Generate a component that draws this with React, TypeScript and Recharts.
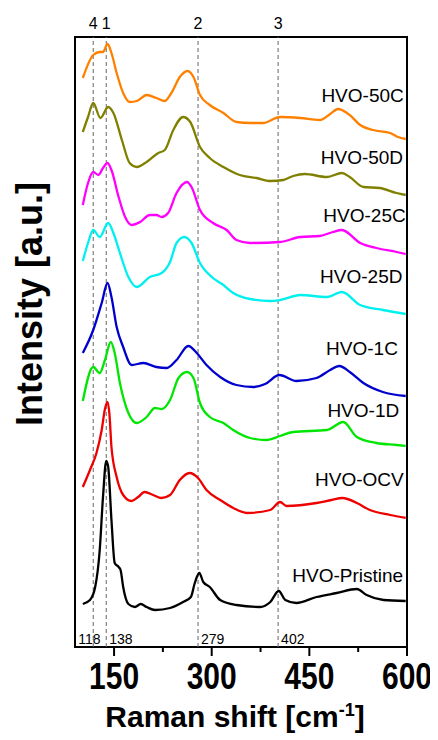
import { LineChart, Line, XAxis, YAxis, ReferenceLine, ReferenceArea, ReferenceDot, Label } from 'recharts';

const FONT = '"Liberation Sans", Arial, sans-serif';

// Raman shift range and intensity range (a.u., curves already stacked)
const X_DOMAIN = [90, 600];
const Y_DOMAIN = [0, 610];
const X_TICKS = [150, 225, 300, 375, 450, 525, 600];

// reference peaks: value, top tag, bottom tag
const PEAKS = [118, 138, 279, 402];
const PEAK_TAGS = ['4', '1', '2', '3'];

const pristine = [
  [102, 43], [113, 47], [121, 60], [128, 97], [133, 150], [138, 186], [141, 180], [146, 127],
  [151, 84], [157, 80], [160, 77], [164, 60], [172, 43], [182, 40], [191, 43], [200, 40],
  [213, 37], [236, 39], [256, 45], [268, 50], [274, 64], [281, 74], [287, 65], [297, 60],
  [313, 47], [338, 42], [374, 40], [390, 45], [403, 56], [413, 47], [430, 44], [461, 50],
  [492, 54], [523, 58], [538, 52], [564, 47], [598, 46],
];
const ocv = [
  [102, 160], [113, 177], [123, 194], [131, 217], [136, 238], [140, 245], [143, 232], [146, 200],
  [154, 170], [164, 152], [177, 146], [187, 150], [197, 155], [210, 152], [223, 149], [236, 152],
  [251, 167], [266, 174], [279, 169], [292, 157], [313, 147], [333, 139], [354, 134], [390, 137],
  [405, 145], [415, 141], [461, 144], [484, 147], [501, 149], [523, 144], [543, 137], [574, 132],
  [598, 129],
];
const d1 = [
  [102, 246], [118, 280], [128, 274], [136, 287], [145, 305], [151, 294], [159, 264], [172, 234],
  [185, 224], [200, 230], [213, 239], [223, 238], [236, 247], [249, 269], [262, 275], [272, 269],
  [282, 244], [297, 230], [318, 224], [333, 217], [359, 209], [384, 207], [405, 211], [425, 215],
  [477, 217], [502, 225], [523, 210], [553, 204], [584, 202], [598, 201],
];
const c1 = [
  [102, 294], [118, 317], [131, 344], [140, 364], [146, 350], [154, 320], [164, 300], [177, 282],
  [195, 284], [215, 280], [231, 279], [246, 287], [264, 301], [277, 294], [292, 282], [313, 270],
  [338, 262], [364, 260], [382, 263], [404, 272], [430, 266], [461, 269], [482, 277], [496, 281],
  [512, 275], [533, 264], [563, 255], [598, 251],
];
const d25 = [
  [102, 386], [110, 404], [118, 417], [128, 410], [141, 424], [149, 414], [159, 394], [172, 370],
  [185, 360], [205, 370], [223, 374], [236, 385], [246, 404], [258, 410], [269, 404], [282, 384],
  [302, 369], [318, 362], [333, 354], [359, 348], [390, 346], [405, 347], [436, 352], [477, 350],
  [500, 355], [528, 342], [563, 337], [598, 333],
];
const c25 = [
  [102, 442], [110, 464], [118, 475], [126, 472], [133, 479], [140, 484], [146, 477], [157, 450],
  [167, 430], [177, 422], [190, 425], [205, 432], [215, 432], [223, 430], [233, 434], [246, 454],
  [262, 465], [269, 460], [282, 437], [302, 424], [323, 417], [338, 407], [359, 404], [405, 405],
  [436, 410], [466, 411], [486, 415], [500, 417], [528, 404], [553, 399], [584, 395], [598, 393],
];
const d50 = [
  [102, 515], [110, 530], [118, 544], [129, 529], [141, 540], [149, 534], [162, 507], [174, 484],
  [185, 480], [200, 485], [218, 494], [228, 497], [241, 517], [256, 530], [267, 525], [282, 500],
  [297, 489], [318, 480], [343, 472], [369, 469], [390, 466], [410, 467], [425, 471], [443, 473],
  [477, 470], [500, 474], [512, 470], [533, 460], [558, 459], [584, 454], [598, 452],
];
const c50 = [
  [102, 569], [118, 592], [128, 595], [133, 595], [140, 603], [146, 594], [154, 574], [164, 554],
  [174, 545], [185, 546], [200, 552], [215, 549], [228, 546], [238, 554], [251, 570], [263, 576],
  [272, 570], [282, 552], [297, 542], [318, 534], [338, 525], [359, 524], [379, 524], [405, 530],
  [436, 529], [466, 527], [482, 533], [494, 538], [512, 532], [528, 522], [548, 517], [574, 514],
  [586, 510], [598, 508],
];

const SERIES = [
  { name: 'HVO-Pristine', data: pristine, color: '#000000', labelX: 594, labelY: 65 },
  { name: 'HVO-OCV', data: ocv, color: '#ee0000', labelX: 595, labelY: 161 },
  { name: 'HVO-1D', data: d1, color: '#00e600', labelX: 588, labelY: 230 },
  { name: 'HVO-1C', data: c1, color: '#0000cc', labelX: 586, labelY: 292 },
  { name: 'HVO-25D', data: d25, color: '#00f0f0', labelX: 593, labelY: 364 },
  { name: 'HVO-25C', data: c25, color: '#ff00ff', labelX: 598, labelY: 425 },
  { name: 'HVO-50D', data: d50, color: '#808000', labelX: 594, labelY: 483 },
  { name: 'HVO-50C', data: c50, color: '#ff8000', labelX: 595, labelY: 545 },
];

function XTick({ x, y, payload }: any) {
  const major = payload.value % 150 === 0;
  return (
    <g>
      <line x1={x} y1={y} x2={x} y2={y + (major ? 9 : 5)} stroke="#000" strokeWidth={2} />
      {major && (
        <text
          transform={`translate(${x}, ${y + 42}) scale(1, 1.22)`}
          textAnchor="middle"
          fontFamily={FONT}
          fontWeight="bold"
          fontSize={30}
          fill="#000"
        >
          {payload.value}
        </text>
      )}
    </g>
  );
}

function PeakLabel({ viewBox, index }: any) {
  const { x, y, height } = viewBox;
  const dx = index === 0 ? -15 : 3;
  return (
    <g fontFamily={FONT} fill="#000">
      <text x={x} y={y - 8} textAnchor="middle" fontSize={16}>
        {PEAK_TAGS[index]}
      </text>
      <text x={x + dx} y={y + height - 3} fontSize={14}>
        {PEAKS[index]}
      </text>
    </g>
  );
}

export default function App() {
  return (
    <LineChart width={430} height={732} margin={{ top: 29, right: 31, left: 0, bottom: 0 }}>
      <XAxis
        type="number"
        dataKey="x"
        domain={X_DOMAIN}
        ticks={X_TICKS}
        allowDataOverflow
        height={93}
        tickSize={0}
        tickMargin={0}
        axisLine={false}
        tick={<XTick />}
        interval={0}
      >
        <Label
          content={({ viewBox }: any) => (
            <text
              x={viewBox.x + viewBox.width / 2 - 6}
              y={viewBox.y + 80}
              textAnchor="middle"
              fontFamily={FONT}
              fontWeight="bold"
              fontSize={30}
              fill="#000"
            >
              Raman shift [cm<tspan dy={-11} fontSize={18}>-1</tspan><tspan dy={11}>]</tspan>
            </text>
          )}
        />
      </XAxis>
      <YAxis type="number" domain={Y_DOMAIN} width={67} tick={false} axisLine={false} tickLine={false}>
        <Label
          content={({ viewBox }: any) => {
            const cx = viewBox.x + 34;
            const cy = viewBox.y + viewBox.height / 2 - 38;
            return (
              <text
                x={cx}
                y={cy}
                transform={`rotate(-90, ${cx}, ${cy})`}
                textAnchor="middle"
                fontFamily={FONT}
                fontWeight="bold"
                fontSize={36}
                fill="#000"
              >
                Intensity [a.u.]
              </text>
            );
          }}
        />
      </YAxis>
      {PEAKS.map((p, i) => (
        <ReferenceLine
          key={p}
          x={p}
          stroke="#666"
          strokeWidth={1}
          strokeDasharray="4 3"
          label={<PeakLabel index={i} />}
        />
      ))}
      {SERIES.map((s) => (
        <Line
          key={s.name}
          data={s.data.map(([x, y]) => ({ x, y }))}
          dataKey="y"
          type="monotone"
          stroke={s.color}
          strokeWidth={2.3}
          dot={false}
          activeDot={false}
          isAnimationActive={false}
        />
      ))}
      {SERIES.map((s) => (
        <ReferenceDot
          key={s.name + '-label'}
          x={s.labelX}
          y={s.labelY}
          r={0}
          shape={(p: any) => (
            <text x={p.cx} y={p.cy} textAnchor="end" fontFamily={FONT} fontSize={19} fill="#000">
              {s.name}
            </text>
          )}
        />
      ))}
      <ReferenceArea
        x1={X_DOMAIN[0]}
        x2={X_DOMAIN[1]}
        y1={Y_DOMAIN[0]}
        y2={Y_DOMAIN[1]}
        fill="none"
        fillOpacity={0}
        stroke="#000"
        strokeWidth={2}
      />
    </LineChart>
  );
}
